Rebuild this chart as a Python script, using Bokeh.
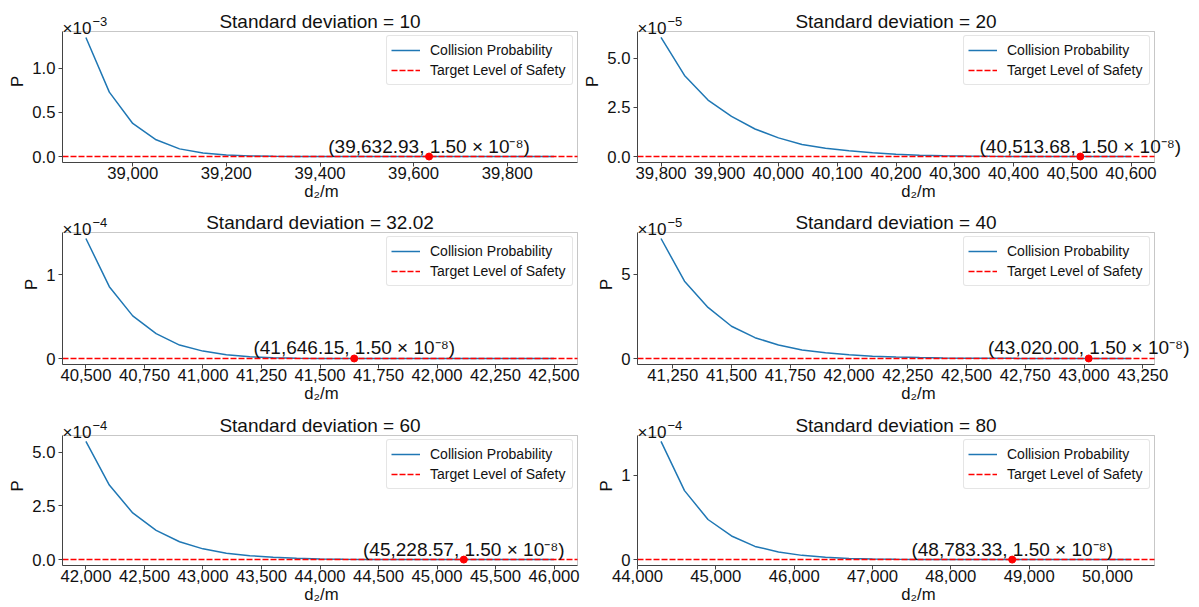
from bokeh.plotting import figure
from bokeh.layouts import column, row
from bokeh.models import (Range1d, FixedTicker, NumeralTickFormatter,
                          CustomJSTickFormatter, Label, BoxAnnotation)
from bokeh.embed import file_html
from bokeh.resources import INLINE

FONT = "Liberation Sans"
INK = "#111111"
FRAME = "#444444"

# Target level of safety
TLS = 1.5e-8

# One panel per standard deviation of the lateral error
sigmas = ["10", "20", "32.02", "40", "60", "80"]

# d2 grid of each panel: first value, step, number of points
d2_start = [38900, 39800, 40500, 41200, 42000, 44300]
d2_step = [50, 40, 100, 100, 200, 300]
d2_count = [21, 21, 21, 21, 21, 21]

# Collision probability along each grid
p_sd10 = [1.35e-3, 7.3e-4, 3.75e-4, 1.9e-4, 8.7e-5, 3.9e-5, 1.72e-5, 7.6e-6,
          3.4e-6, 1.5e-6, 6.7e-7, 3.0e-7, 1.33e-7, 5.9e-8, 2.6e-8, 1.16e-8,
          5.2e-9, 2.3e-9, 1.0e-9, 4.6e-10, 2.0e-10]
p_sd20 = [6.05e-5, 4.12e-5, 2.87e-5, 2.04e-5, 1.40e-5, 9.5e-6, 6.1e-6, 4.2e-6,
          2.9e-6, 1.9e-6, 1.16e-6, 7.0e-7, 4.1e-7, 2.35e-7, 1.32e-7, 7.2e-8,
          3.9e-8, 2.15e-8, 1.12e-8, 5.6e-9, 2.8e-9]
p_sd32 = [1.43e-4, 8.56e-5, 5.08e-5, 2.96e-5, 1.6e-5, 8.8e-6, 4.5e-6, 2.1e-6,
          9.0e-7, 3.4e-7, 1.15e-7, 3.3e-8, 9.2e-9, 2.5e-9, 6.4e-10, 1.5e-10,
          3.3e-11, 7e-12, 1.4e-12, 2.6e-13, 4.6e-14]
p_sd40 = [7.14e-5, 4.6e-5, 3.04e-5, 1.92e-5, 1.24e-5, 8.0e-6, 5.0e-6, 3.4e-6,
          2.2e-6, 1.4e-6, 9.0e-7, 5.6e-7, 3.5e-7, 2.15e-7, 1.32e-7, 8.0e-8,
          4.8e-8, 2.8e-8, 1.6e-8, 9.0e-9, 5.0e-9]
p_sd60 = [5.5e-4, 3.47e-4, 2.17e-4, 1.36e-4, 8.3e-5, 5.0e-5, 3.0e-5, 1.8e-5,
          1.1e-5, 6.2e-6, 3.3e-6, 1.65e-6, 7.8e-7, 3.4e-7, 1.4e-7, 5.3e-8,
          1.9e-8, 6.3e-9, 2.0e-9, 5.8e-10, 1.6e-10]
p_sd80 = [1.40e-4, 8.17e-5, 4.75e-5, 2.8e-5, 1.56e-5, 9.0e-6, 5.0e-6, 2.65e-6,
          1.4e-6, 7.4e-7, 3.9e-7, 2.05e-7, 1.07e-7, 5.6e-8, 2.9e-8, 1.5e-8,
          7.7e-9, 3.9e-9, 2.0e-9, 1.0e-9, 5.0e-10]
probabilities = [p_sd10, p_sd20, p_sd32, p_sd40, p_sd60, p_sd80]

# d2 at which the probability reaches the target level of safety
crossings = [39632.93, 40513.68, 41646.15, 43020.00, 45228.57, 48783.33]

# Axis ticks
x_ticks = [
    [39000, 39200, 39400, 39600, 39800],
    [39800, 39900, 40000, 40100, 40200, 40300, 40400, 40500, 40600],
    [40500, 40750, 41000, 41250, 41500, 41750, 42000, 42250, 42500],
    [41250, 41500, 41750, 42000, 42250, 42500, 42750, 43000, 43250],
    [42000, 42500, 43000, 43500, 44000, 44500, 45000, 45500, 46000],
    [44000, 45000, 46000, 47000, 48000, 49000, 50000],
]
y_exponent = [-3, -5, -4, -5, -4, -4]
y_tick_mantissa = [[0, 0.5, 1.0], [0, 2.5, 5.0], [0, 1], [0, 5],
                   [0, 2.5, 5.0], [0, 1]]
y_tick_decimals = [1, 1, 0, 0, 1, 0]

SUP = str.maketrans("-0123456789", "⁻⁰¹²³⁴⁵⁶⁷⁸⁹")


def sci_text(v):
    mant, exp = f"{v:.2e}".split("e")
    return f"{mant} × 10{str(int(exp)).translate(SUP)}"


# Layout in pixels. Each figure's drawing area runs from its y axis to its
# right edge and from its top edge down to its x axis, so the title, the
# exponent note and the callouts can sit around the boxed data area.
col_width = [580, 619]
col_left = [62, 57]          # room for the y axis
col_box_w = [515, 517]       # width of the boxed data area
row_height = [204, 202, 201]
row_top = [31, 28, 29]       # space above the boxed data area
row_bottom = [42, 42, 42]    # room for the x axis

LEGEND_W = 185
LEGEND_H = 48
LEGEND_GAP = 6


def make_panel(i):
    r, c = divmod(i, 2)
    xs = [d2_start[i] + k * d2_step[i] for k in range(d2_count[i])]
    ys = probabilities[i]

    xpad = 0.05 * (max(xs) - min(xs))
    x_lo, x_hi = min(xs) - xpad, max(xs) + xpad
    y_min = min(min(ys), TLS)
    ypad = 0.05 * (max(ys) - y_min)
    y_lo, y_hi = y_min - ypad, max(ys) + ypad

    area_w = col_width[c] - col_left[c]
    area_h = row_height[r] - row_bottom[r]
    box_w = col_box_w[c]
    box_h = area_h - row_top[r]
    x_end = x_lo + (x_hi - x_lo) * area_w / box_w
    y_end = y_lo + (y_hi - y_lo) * area_h / box_h

    p = figure(width=col_width[c], height=row_height[r],
               output_backend="svg", toolbar_location=None,
               x_range=Range1d(x_lo, x_end), y_range=Range1d(y_lo, y_end),
               min_border_left=col_left[c], min_border_right=0,
               min_border_top=0, min_border_bottom=row_bottom[r])
    p.background_fill_color = "white"
    p.border_fill_color = "white"
    p.outline_line_color = None
    p.xgrid.visible = False
    p.ygrid.visible = False

    p.line(xs, ys, line_color="#1f77b4", line_width=1.5,
           legend_label="Collision Probability")
    p.line([x_lo, x_hi], [TLS, TLS], line_color="red", line_width=1.5,
           line_dash="6 2", legend_label="Target Level of Safety")
    p.scatter([crossings[i]], [TLS], size=7, color="red")

    # axes box
    p.add_layout(BoxAnnotation(left=x_lo, right=x_hi, bottom=y_lo, top=y_hi,
                               fill_color=None, line_color=FRAME,
                               line_width=1))

    # title
    p.add_layout(Label(x=(x_lo + x_hi) / 2, y=y_hi,
                       text=f"Standard deviation = {sigmas[i]}",
                       text_align="center", text_baseline="bottom",
                       text_font=FONT, text_font_size="19px",
                       text_color=INK))
    # exponent note of the y axis: "×10" with a raised exponent
    p.add_layout(Label(x=x_lo, y=y_hi, y_offset=3, text="×10",
                       text_align="left", text_baseline="alphabetic",
                       text_font=FONT, text_font_size="17px",
                       text_color=INK))
    p.add_layout(Label(x=x_lo, y=y_hi, x_offset=30, y_offset=10,
                       text=str(y_exponent[i]).replace("-", "−"),
                       text_align="left", text_baseline="alphabetic",
                       text_font=FONT, text_font_size="13px",
                       text_color=INK))
    # callout at the crossing point
    p.add_layout(Label(x=crossings[i], y=TLS,
                       text=f"({crossings[i]:,.2f}, {sci_text(TLS)})",
                       text_align="center", text_baseline="bottom",
                       text_font=FONT, text_font_size="19px",
                       text_color=INK))

    scale = 10.0 ** y_exponent[i]
    p.xaxis.ticker = FixedTicker(ticks=x_ticks[i])
    p.xaxis.formatter = NumeralTickFormatter(format="0,0")
    p.yaxis.ticker = FixedTicker(ticks=[m * scale for m in y_tick_mantissa[i]])
    p.yaxis.formatter = CustomJSTickFormatter(
        args=dict(scale=scale, dec=y_tick_decimals[i]),
        code="return (tick / scale).toFixed(dec);")
    p.xaxis.bounds = (x_lo, x_hi)
    p.yaxis.bounds = (y_lo, y_hi)

    p.xaxis.axis_label = "d₂/m"
    p.yaxis.axis_label = "P"
    for ax in (p.xaxis, p.yaxis):
        ax.axis_line_color = FRAME
        ax.major_tick_line_color = FRAME
        ax.major_tick_in = 0
        ax.major_tick_out = 4
        ax.minor_tick_line_color = None
        ax.major_label_text_font = FONT
        ax.major_label_text_font_size = "16.7px"
        ax.major_label_text_color = INK
        ax.axis_label_text_font = FONT
        ax.axis_label_text_font_size = "16.7px"
        ax.axis_label_text_font_style = "normal"
        ax.axis_label_text_color = INK
    p.xaxis.major_label_standoff = 0
    p.xaxis.axis_label_standoff = 0
    p.yaxis.major_label_standoff = 3
    p.yaxis.axis_label_standoff = 2

    lg = p.legend[0]
    lg.location = (box_w - LEGEND_GAP - LEGEND_W,
                   box_h - LEGEND_GAP - LEGEND_H)
    lg.padding = 4
    lg.spacing = 0
    lg.label_height = 20
    lg.glyph_height = 20
    lg.glyph_width = 29
    lg.label_standoff = 10
    lg.label_width = 138
    lg.label_text_font = FONT
    lg.label_text_font_size = "14px"
    lg.label_text_color = INK
    lg.border_line_color = "#cccccc"
    lg.border_line_width = 1
    lg.border_radius = 3
    lg.background_fill_alpha = 0.8
    return p


panels = [make_panel(i) for i in range(6)]
layout = column(row(panels[0], panels[1]),
                row(panels[2], panels[3]),
                row(panels[4], panels[5]))

open("out.html", "w").write(file_html(layout, INLINE))
